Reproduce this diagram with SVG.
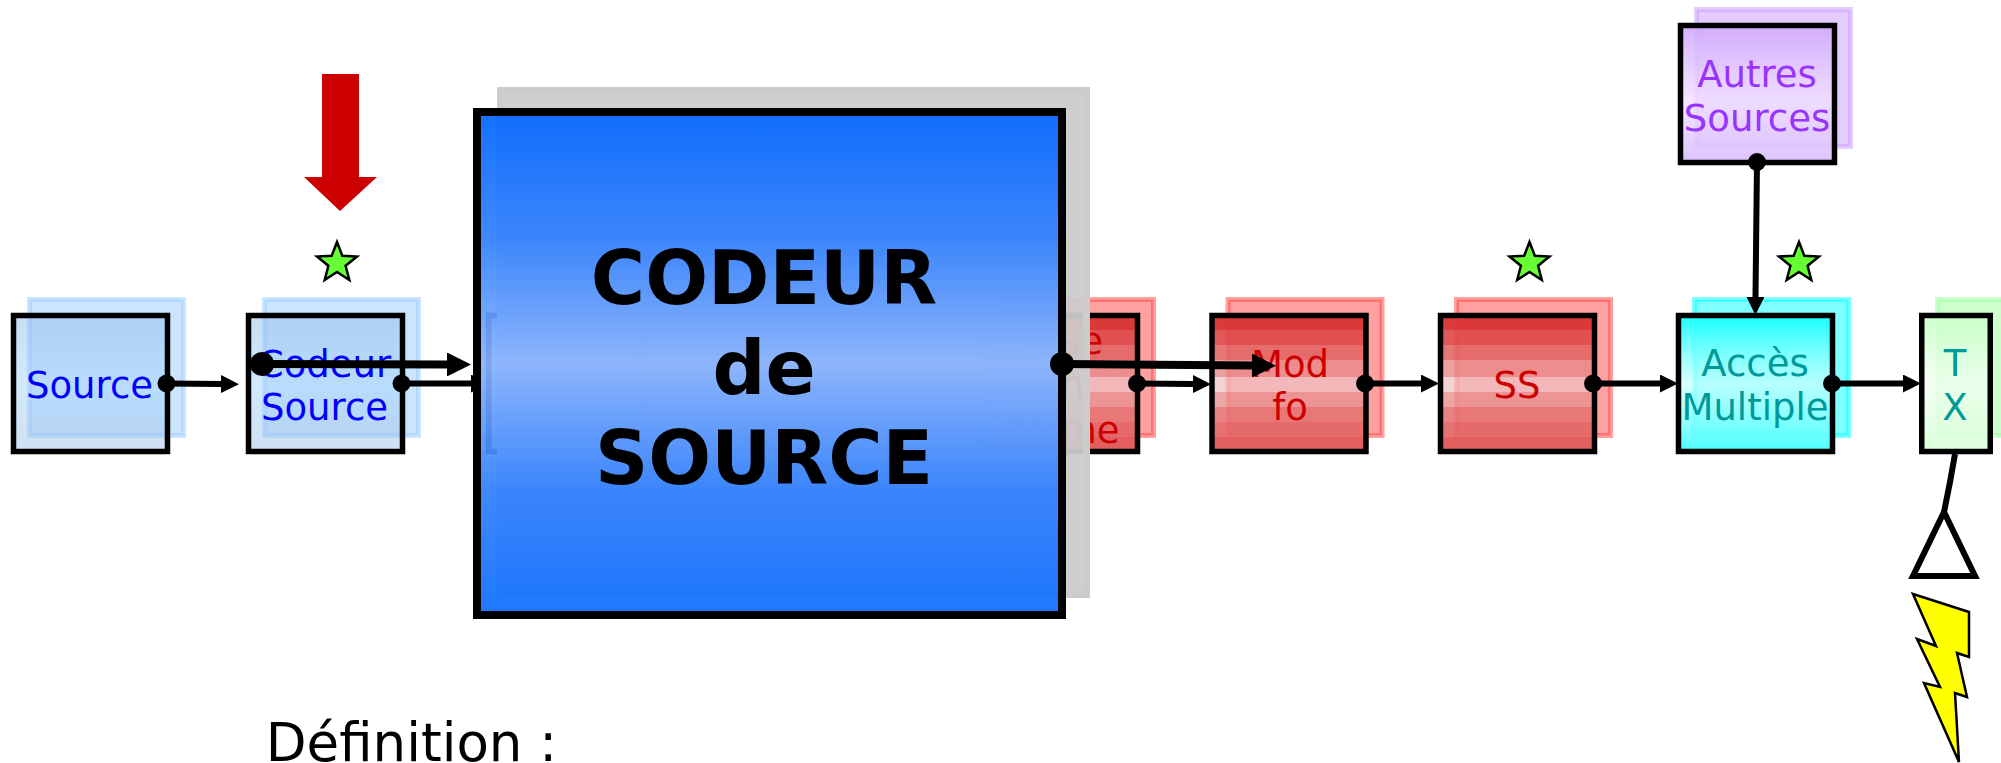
<svg xmlns="http://www.w3.org/2000/svg" width="2001" height="763" viewBox="0 0 2001 763">
<style>
text{font-family:"DejaVu Sans",sans-serif;font-size:37px;text-anchor:middle}
.box{stroke:#000;stroke-width:5.5}
.sh{stroke-width:5;fill-opacity:.5;stroke-opacity:.5}
.blue{fill:#00f}.red{fill:#c00}.teal{fill:#099}.purple{fill:#93f}
.shb{fill:#9cf;stroke:#9cf}.shr{fill:#f44;stroke:#f44}.shc{fill:#0ff;stroke:#0ff}.shg{fill:#9f9;stroke:#9f9}.shp{fill:#c9f;stroke:#c9f}
.big{font-size:74px;font-weight:bold;fill:#000}
.c{stroke:#000;stroke-width:6;fill:none;marker-end:url(#ah)}
.t{stroke:#000;stroke-width:8;fill:none;marker-end:url(#ahb)}
.star{fill:#6f3;stroke:#000;stroke-width:2.5}
</style>
<defs>
<linearGradient id="gb" x1="0" y1="0" x2="0" y2="1"><stop offset="0" stop-color="#8ebbe7" stop-opacity=".5"/><stop offset=".5" stop-color="#a6d3fb" stop-opacity=".5"/><stop offset="1" stop-color="#a0c0e4" stop-opacity=".5"/></linearGradient>
<linearGradient id="gr" x1="0" y1="0" x2="0" y2="1">
<stop offset="0" stop-color="#da3535" stop-opacity=".97"/><stop offset=".11" stop-color="#da3535" stop-opacity=".97"/>
<stop offset=".11" stop-color="#de4a4a" stop-opacity=".92"/><stop offset=".22" stop-color="#de4a4a" stop-opacity=".92"/>
<stop offset=".22" stop-color="#e26464" stop-opacity=".88"/><stop offset=".33" stop-color="#e26464" stop-opacity=".88"/>
<stop offset=".33" stop-color="#e88888" stop-opacity=".8"/><stop offset=".45" stop-color="#e88888" stop-opacity=".8"/>
<stop offset=".45" stop-color="#eec0c2" stop-opacity=".72"/><stop offset=".56" stop-color="#eec0c2" stop-opacity=".72"/>
<stop offset=".56" stop-color="#e89090" stop-opacity=".8"/><stop offset=".67" stop-color="#e89090" stop-opacity=".8"/>
<stop offset=".67" stop-color="#e57272" stop-opacity=".88"/><stop offset=".78" stop-color="#e57272" stop-opacity=".88"/>
<stop offset=".78" stop-color="#e36666" stop-opacity=".92"/><stop offset=".89" stop-color="#e36666" stop-opacity=".92"/>
<stop offset=".89" stop-color="#e25a5a" stop-opacity=".97"/><stop offset="1" stop-color="#e25a5a" stop-opacity=".97"/>
</linearGradient>
<linearGradient id="gc" x1="0" y1="0" x2="0" y2="1"><stop offset="0" stop-color="#1ff" stop-opacity=".97"/><stop offset=".5" stop-color="#cff" stop-opacity=".7"/><stop offset="1" stop-color="#4ff" stop-opacity=".97"/></linearGradient>
<linearGradient id="gg2" x1="0" y1="0" x2="0" y2="1"><stop offset="0" stop-color="#c8ffc8" stop-opacity=".9"/><stop offset=".5" stop-color="#f2fff2" stop-opacity=".8"/><stop offset="1" stop-color="#d8ffd8" stop-opacity=".9"/></linearGradient>
<linearGradient id="gp" x1="0" y1="0" x2="0" y2="1"><stop offset="0" stop-color="#d0a8fc" stop-opacity=".9"/><stop offset=".55" stop-color="#f0e0ff" stop-opacity=".8"/><stop offset="1" stop-color="#d8bcfb" stop-opacity=".9"/></linearGradient>
<linearGradient id="gB" x1="0" y1="0" x2="0" y2="1"><stop offset="0" stop-color="#0065ff"/><stop offset=".25" stop-color="#2f7fff"/><stop offset=".5" stop-color="#88b3ff"/><stop offset=".75" stop-color="#2f7fff"/><stop offset="1" stop-color="#0c6dff"/></linearGradient>
<marker id="ah" markerUnits="userSpaceOnUse" markerWidth="18" markerHeight="18" refX="0" refY="9" orient="auto"><path d="M0,0L18,9L0,18Z" fill="#000"/></marker>
<marker id="ahb" markerUnits="userSpaceOnUse" markerWidth="24" markerHeight="24" refX="0" refY="12" orient="auto"><path d="M0,0L24,12L0,24Z" fill="#000"/></marker>
<clipPath id="cl"><rect x="300" y="360" width="173" height="50"/></clipPath>
<polygon id="st" points="0,-21 5.3,-7.3 20,-6.5 8.6,2.8 12.3,17 0,9 -12.3,17 -8.6,2.8 -20,-6.5 -5.3,-7.3"/>
</defs>
<g id="node-source">
<rect class="sh shb" x="29.5" y="299.5" width="154" height="136"/>
<rect class="box" x="13.5" y="315.5" width="154" height="136" fill="url(#gb)"/>
<text class="blue" x="89.5" y="398">Source</text>
</g>
<g id="node-codeur-source">
<rect class="sh shb" x="264.5" y="299.5" width="154" height="136"/>
<rect class="box" x="248.5" y="315.5" width="154" height="136" fill="url(#gb)"/>
<text class="blue"><tspan x="324.5" y="377">Codeur</tspan><tspan x="324.5" y="420">Source</tspan></text>
</g>
<g id="node-hidden">
<rect class="box" x="488.5" y="315.5" width="154" height="136" fill="url(#gb)"/>
</g>
<g id="node-mise-en-forme">
<rect class="sh shr" x="999.5" y="299.5" width="154" height="136"/>
<rect class="box" x="983.5" y="315.5" width="154" height="136" fill="url(#gr)"/>
<text class="red"><tspan x="1061" y="354">Mise</tspan><tspan x="1061" y="398">en</tspan><tspan x="1065" y="443">forme</tspan></text>
</g>
<g id="node-modulation">
<rect class="sh shr" x="1228" y="299.5" width="154" height="136"/>
<rect class="box" x="1212" y="315.5" width="154" height="136" fill="url(#gr)"/>
<text class="red"><tspan x="1290" y="377">Mod</tspan><tspan x="1290" y="420">fo</tspan></text>
</g>
<g id="node-ss">
<rect class="sh shr" x="1456.5" y="299.5" width="154" height="136"/>
<rect class="box" x="1440.5" y="315.5" width="154" height="136" fill="url(#gr)"/>
<text class="red" x="1517" y="398">SS</text>
</g>
<g id="node-acces-multiple">
<rect class="sh shc" x="1694.5" y="299.5" width="154" height="136"/>
<rect class="box" x="1678.5" y="315.5" width="154" height="136" fill="url(#gc)"/>
<text class="teal"><tspan x="1755" y="376">Accès</tspan><tspan x="1755" y="420">Multiple</tspan></text>
</g>
<g id="node-tx">
<rect class="sh shg" x="1937.5" y="299.5" width="69" height="136"/>
<rect class="box" x="1921.75" y="315.5" width="68.5" height="136" fill="url(#gg2)"/>
<text class="teal"><tspan x="1955" y="376">T</tspan><tspan x="1955" y="420">X</tspan></text>
</g>
<g id="node-autres-sources">
<rect class="sh shp" x="1696.5" y="9.5" width="154" height="137"/>
<rect class="box" x="1680.5" y="25.5" width="154" height="137" fill="url(#gp)"/>
<text class="purple"><tspan x="1757" y="87">Autres</tspan><tspan x="1757" y="131">Sources</tspan></text>
</g>
<g id="node-codeur-de-source">
<rect x="500.5" y="90.5" width="586" height="504" fill="#ccc" fill-opacity=".94" stroke="#ccc" stroke-width="7"/>
<rect x="477" y="112" width="585" height="503" fill="url(#gB)" fill-opacity=".92" stroke="#000" stroke-width="8"/>
<text class="big"><tspan x="764" y="304">CODEUR</tspan><tspan x="764" y="394">de</tspan><tspan x="764" y="484">SOURCE</tspan></text>
</g>
<g id="antenna">
<polygon points="1944,512 1913,576 1975,576" fill="#fff" stroke="#000" stroke-width="6"/>
</g>
<g id="lightning">
<polygon points="1913,594 1969,612 1969,657 1957,653 1967,697 1955,693 1959,762 1924,683 1940,687 1917,639 1936,646" fill="#ff0" stroke="#000" stroke-width="2.5"/>
</g>
<g id="star-1"><use href="#st" class="star" x="337" y="263"/></g>
<g id="star-2"><use href="#st" class="star" x="1529.5" y="263"/></g>
<g id="star-3"><use href="#st" class="star" x="1799" y="263"/></g>
<g id="red-arrow"><polygon points="322,74 359,74 359,177 377,177 340,211 304,177 322,177" fill="#c00"/></g>
<g id="definition"><text x="411.5" y="761" style="font-size:53px" fill="#000">Définition :</text></g>
<g id="connectors">
<line class="c" x1="167" y1="383.5" x2="221" y2="384"/>
<line class="c" x1="402" y1="383.5" x2="471" y2="383.5" clip-path="url(#cl)"/>
<line class="c" x1="1137" y1="383.5" x2="1193" y2="384"/>
<line class="c" x1="1365" y1="383.5" x2="1421" y2="383.5"/>
<line class="c" x1="1593" y1="383.5" x2="1660" y2="383.5"/>
<line class="c" x1="1832" y1="383.5" x2="1903" y2="383.5"/>
<line class="c" x1="1757" y1="162" x2="1755.5" y2="297"/>
<path d="M1955,454Q1950,484 1944,512" fill="none" stroke="#000" stroke-width="6"/>
<line class="t" x1="262" y1="364" x2="447" y2="364.5"/>
<line class="t" x1="1062" y1="364" x2="1252" y2="365.5"/>
<g fill="#000">
<circle cx="166.5" cy="383.5" r="9"/>
<circle cx="401.5" cy="383.5" r="9"/>
<circle cx="1137" cy="383.5" r="9"/>
<circle cx="1365" cy="383.5" r="9"/>
<circle cx="1593" cy="383.5" r="9"/>
<circle cx="1832" cy="383.5" r="9"/>
<circle cx="1757" cy="162" r="9"/>
<circle cx="262" cy="364" r="12"/>
<circle cx="1062" cy="364" r="12"/>
</g>
</g>
</svg>
